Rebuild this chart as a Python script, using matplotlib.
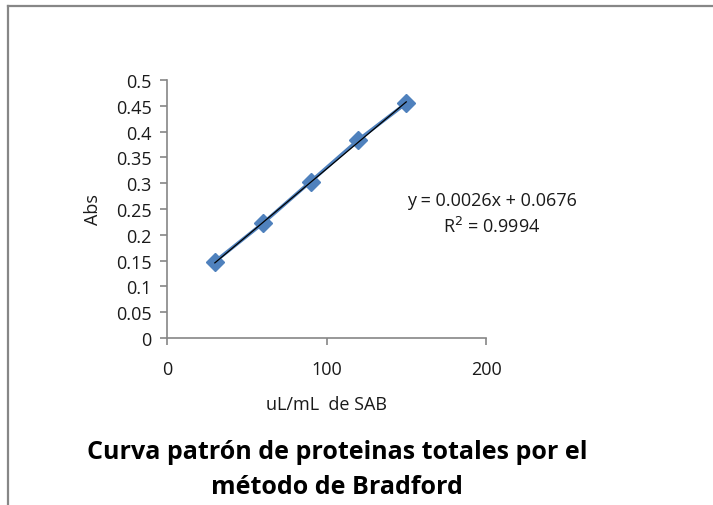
import numpy as np
import matplotlib
matplotlib.use("Agg")
import matplotlib.pyplot as plt
from matplotlib.lines import Line2D

# Bradford standard curve
conc = [30, 60, 90, 120, 150]
absorb = [0.148, 0.222, 0.303, 0.384, 0.455]
slope = 0.0026
intercept = 0.0676
r2 = 0.9994

xticks = [0, 100, 200]
yticks = [0, 0.05, 0.1, 0.15, 0.2, 0.25, 0.3, 0.35, 0.4, 0.45, 0.5]

plt.rcParams["font.family"] = ["Open Sans", "DejaVu Sans"]

fig = plt.figure(figsize=(7.13, 5.06), dpi=100)
ax = fig.add_axes([167/713, 1-339/506, 319/713, 258/506])

axcol = "#868686"
blue = "#4F81BD"
fs = 13

ax.plot(conc, absorb, "-", color=blue, lw=2.5, marker="D", ms=9,
        mfc=blue, mec=blue, zorder=3)
xs = np.array([conc[0], conc[-1]])
ax.plot(xs, slope*xs + intercept, "-", color="black", lw=0.9, zorder=4)

ax.set_xlim(0, 200)
ax.set_ylim(0, 0.5)
ax.set_xticks(xticks)
ax.set_yticks(yticks)
ax.set_yticklabels([("%g" % v) for v in yticks])
for s in ["top", "right"]:
    ax.spines[s].set_visible(False)
for s in ["left", "bottom"]:
    ax.spines[s].set_color(axcol)
    ax.spines[s].set_linewidth(1.2)
ax.tick_params(colors=axcol, labelcolor="#1a1a1a", length=5, width=1.2,
               labelsize=fs)
ax.tick_params(axis="x", pad=11)
ax.tick_params(axis="y", pad=6)

ax.set_xlabel("uL/mL  de SAB", fontsize=fs, color="#1a1a1a", labelpad=12)
ax.set_ylabel("Abs", fontsize=fs, color="#1a1a1a", labelpad=10)

ax.text(492/713, 1-201/506, "y = %.4fx + %.4f" % (slope, intercept),
        transform=fig.transFigure, ha="center", va="center", fontsize=fs,
        color="#1a1a1a")
ax.text(492/713, 1-227/506, "R$^2$ = %.4f" % r2,
        transform=fig.transFigure, ha="center", va="center", fontsize=fs,
        color="#1a1a1a")

fig.text(337/713, 1-470/506, "Curva patrón de proteinas totales por el\nmétodo de Bradford",
         ha="center", va="center", fontsize=18, fontweight="bold",
         linespacing=1.5, color="black")

# chart frame (top and left edges only)
fig.add_artist(Line2D([8/713, 1], [1-7/506, 1-7/506], transform=fig.transFigure,
                      color="#878787", lw=1.6))
fig.add_artist(Line2D([8/713, 8/713], [0, 1-7/506], transform=fig.transFigure,
                      color="#878787", lw=1.6))

fig.savefig("out.png", dpi=100)
